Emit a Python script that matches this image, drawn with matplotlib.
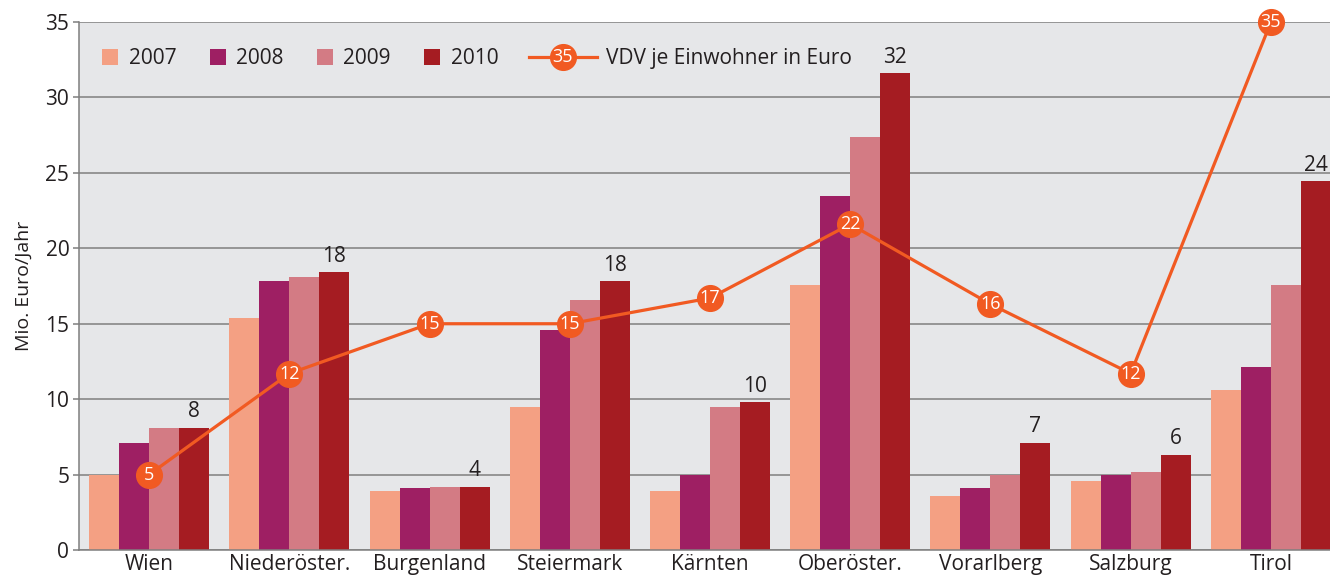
import matplotlib.pyplot as plt
import numpy as np
from matplotlib.patches import Patch
from matplotlib.lines import Line2D
from matplotlib.legend_handler import HandlerLine2D
from matplotlib.text import Text

plt.rcParams['font.family'] = ['Open Sans', 'DejaVu Sans']

# Data
regions = ['Wien', 'Niederöster.', 'Burgenland', 'Steiermark', 'Kärnten',
           'Oberöster.', 'Vorarlberg', 'Salzburg', 'Tirol']
years = ['2007', '2008', '2009', '2010']
v2007 = [5.0, 15.4, 3.9, 9.5, 3.9, 17.6, 3.6, 4.6, 10.6]
v2008 = [7.1, 17.8, 4.1, 14.6, 5.0, 23.5, 4.1, 5.0, 12.1]
v2009 = [8.1, 18.1, 4.2, 16.6, 9.5, 27.4, 5.0, 5.2, 17.6]
v2010 = [8.1, 18.4, 4.2, 17.8, 9.8, 31.6, 7.1, 6.3, 24.45]
vdv = [5.0, 11.7, 15.0, 15.0, 16.7, 21.6, 16.3, 11.7, 35.0]
vdv_label = 'VDV je Einwohner in Euro'
ylabel = 'Mio. Euro/Jahr'

bar_colors = ['#F4A083', '#9E1F63', '#D37B84', '#A51C22']
line_color = '#F15A22'
text_color = '#231F20'
grid_color = '#7F7F7F'
bg_color = '#E6E7E9'
fs = 15


class NumberedLineHandler(HandlerLine2D):
    """Legend line with a number written inside the marker."""
    def create_artists(self, legend, orig_handle, xdescent, ydescent,
                       width, height, fontsize, trans):
        artists = super().create_artists(legend, orig_handle, xdescent, ydescent,
                                         width, height, fontsize, trans)
        t = Text(width / 2 - xdescent, height / 2 - ydescent, '35',
                 ha='center', va='center', color='white', fontsize=13,
                 transform=trans)
        return artists + [t]


fig = plt.figure(figsize=(13.3, 5.78), dpi=100)
ax = fig.add_axes([0.0594, 0.0484, 0.9489, 0.9135])
ax.set_facecolor(bg_color)

x = np.arange(len(regions))
width = 0.214
series = [v2007, v2008, v2009, v2010]
for i, (vals, col) in enumerate(zip(series, bar_colors)):
    ax.bar(x + (i - 1.5) * width, vals, width, color=col, zorder=2,
           label=years[i])

# value labels on the 2010 bars
for xi, v in zip(x, v2010):
    ax.annotate(f'{v:.0f}', (xi + 1.5 * width, v), xytext=(0, 4),
                textcoords='offset points', ha='center', va='bottom',
                fontsize=fs, color=text_color, zorder=3)

# VDV line with numbered markers
ax.plot(x, vdv, color=line_color, linewidth=2.3, marker='o', markersize=18.5,
        zorder=4, clip_on=False)
for xi, v in zip(x, vdv):
    ax.text(xi, v, f'{v:.0f}', ha='center', va='center', color='white',
            fontsize=13, zorder=5, clip_on=False)

ax.set_xlim(-0.5, 8.5)
ax.set_ylim(0, 35)
ax.set_yticks(np.arange(0, 36, 5))
ax.set_xticks(x)
ax.set_xticklabels(regions)
ax.yaxis.grid(True, color=grid_color, linewidth=1.1, zorder=1)
ax.set_axisbelow(True)

for side in ['right', 'top']:
    ax.spines[side].set_visible(False)
for side in ['left', 'bottom']:
    ax.spines[side].set_color(grid_color)
    ax.spines[side].set_linewidth(1.1)

ax.tick_params(axis='y', length=4, width=1.1, color=grid_color, pad=3,
               labelsize=fs, labelcolor=text_color)
ax.tick_params(axis='x', length=0, pad=3, labelsize=fs, labelcolor=text_color)
ax.set_ylabel(ylabel, fontsize=14, color=text_color, labelpad=9)

# legend for the bars
bar_handles = [Patch(facecolor=c, edgecolor='none') for c in bar_colors]
leg1 = ax.legend(bar_handles, years, loc='center left',
                 bbox_to_anchor=(0.0184, 0.93), ncol=4, frameon=False,
                 fontsize=fs, handlelength=0.77, handleheight=0.77,
                 handletextpad=0.5, columnspacing=1.6, borderpad=0,
                 borderaxespad=0, labelcolor=text_color)
ax.add_artist(leg1)

# legend for the line
line_handle = Line2D([], [], color=line_color, linewidth=2.3, marker='o',
                     markersize=18.5)
ax.legend([line_handle], [vdv_label], loc='center left',
          bbox_to_anchor=(0.3565, 0.93), frameon=False, fontsize=fs,
          handlelength=3.27, handletextpad=0.43, borderpad=0,
          borderaxespad=0, labelcolor=text_color,
          handler_map={Line2D: NumberedLineHandler(numpoints=1)})

fig.savefig('out.png', dpi=100)
